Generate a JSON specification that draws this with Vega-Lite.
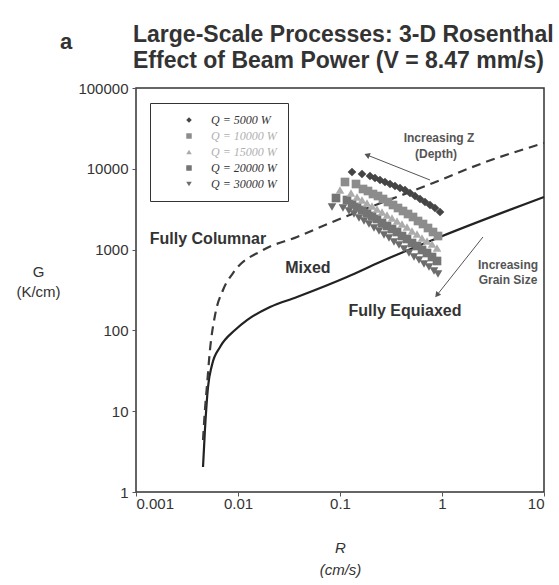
{
  "$schema": "https://vega.github.io/schema/vega-lite/v6.json",
  "width": 408,
  "height": 404,
  "autosize": "none",
  "padding": {"left": 136, "top": 88, "right": 15, "bottom": 93},
  "background": "white",
  "title": {
    "text": ["Large-Scale Processes: 3-D Rosenthal", "Effect of Beam Power (V = 8.47 mm/s)"],
    "anchor": "start",
    "frame": "group",
    "font": "Liberation Sans",
    "fontSize": 23,
    "fontWeight": "bold",
    "color": "#333333",
    "lineHeight": 26,
    "offset": -42,
    "dx": -3
  },
  "config": {
    "view": {"stroke": "#333333", "strokeWidth": 1.5},
    "axis": {
      "labelFont": "Liberation Sans",
      "labelFontSize": 15,
      "labelColor": "#333333",
      "titleFont": "Liberation Sans",
      "titleFontSize": 15,
      "titleFontWeight": "normal",
      "titleColor": "#333333",
      "domain": false,
      "grid": false,
      "tickColor": "#555555",
      "tickSize": 4
    }
  },
  "datasets": {
    "curves": [
      {"curve": "solid", "R": 0.00454, "G": 2.04},
      {"curve": "solid", "R": 0.00474, "G": 5.85},
      {"curve": "solid", "R": 0.00508, "G": 19.9},
      {"curve": "solid", "R": 0.00556, "G": 37.3},
      {"curve": "solid", "R": 0.00667, "G": 62.3},
      {"curve": "solid", "R": 0.00935, "G": 101},
      {"curve": "solid", "R": 0.01225, "G": 134},
      {"curve": "solid", "R": 0.0206, "G": 195},
      {"curve": "solid", "R": 0.0379, "G": 259},
      {"curve": "solid", "R": 0.117, "G": 458},
      {"curve": "solid", "R": 0.247, "G": 703},
      {"curve": "solid", "R": 0.955, "G": 1432},
      {"curve": "solid", "R": 10, "G": 4480},
      {"curve": "dashed", "R": 0.00454, "G": 4.4},
      {"curve": "dashed", "R": 0.00474, "G": 10.3},
      {"curve": "dashed", "R": 0.00497, "G": 21.1},
      {"curve": "dashed", "R": 0.00531, "G": 57.2},
      {"curve": "dashed", "R": 0.00596, "G": 155},
      {"curve": "dashed", "R": 0.00713, "G": 316},
      {"curve": "dashed", "R": 0.00893, "G": 513},
      {"curve": "dashed", "R": 0.0176, "G": 988},
      {"curve": "dashed", "R": 0.0379, "G": 1432},
      {"curve": "dashed", "R": 0.0798, "G": 2134},
      {"curve": "dashed", "R": 0.817, "G": 6670},
      {"curve": "dashed", "R": 2.52, "G": 11800},
      {"curve": "dashed", "R": 10, "G": 20860}
    ],
    "points": [
      {"Q": "30000", "R": 0.08349, "G": 3368},
      {"Q": "30000", "R": 0.1070, "G": 3273},
      {"Q": "30000", "R": 0.1225, "G": 3004},
      {"Q": "30000", "R": 0.1372, "G": 2758},
      {"Q": "30000", "R": 0.1536, "G": 2461},
      {"Q": "30000", "R": 0.1719, "G": 2259},
      {"Q": "30000", "R": 0.1924, "G": 2074},
      {"Q": "30000", "R": 0.2154, "G": 1851},
      {"Q": "30000", "R": 0.2412, "G": 1699},
      {"Q": "30000", "R": 0.2700, "G": 1516},
      {"Q": "30000", "R": 0.3023, "G": 1392},
      {"Q": "30000", "R": 0.3384, "G": 1242},
      {"Q": "30000", "R": 0.3788, "G": 1140},
      {"Q": "30000", "R": 0.4240, "G": 1017},
      {"Q": "30000", "R": 0.4748, "G": 908},
      {"Q": "30000", "R": 0.5316, "G": 810},
      {"Q": "30000", "R": 0.5951, "G": 744},
      {"Q": "30000", "R": 0.6662, "G": 663},
      {"Q": "30000", "R": 0.7457, "G": 609},
      {"Q": "30000", "R": 0.8348, "G": 543},
      {"Q": "30000", "R": 0.9137, "G": 499},
      {"Q": "20000", "R": 0.09138, "G": 4351},
      {"Q": "20000", "R": 0.1171, "G": 4111},
      {"Q": "20000", "R": 0.1311, "G": 3667},
      {"Q": "20000", "R": 0.1468, "G": 3368},
      {"Q": "20000", "R": 0.1643, "G": 3092},
      {"Q": "20000", "R": 0.1839, "G": 2838},
      {"Q": "20000", "R": 0.2059, "G": 2605},
      {"Q": "20000", "R": 0.2305, "G": 2392},
      {"Q": "20000", "R": 0.2581, "G": 2134},
      {"Q": "20000", "R": 0.2889, "G": 1959},
      {"Q": "20000", "R": 0.3234, "G": 1799},
      {"Q": "20000", "R": 0.3621, "G": 1651},
      {"Q": "20000", "R": 0.4053, "G": 1473},
      {"Q": "20000", "R": 0.4537, "G": 1353},
      {"Q": "20000", "R": 0.5081, "G": 1207},
      {"Q": "20000", "R": 0.5688, "G": 1108},
      {"Q": "20000", "R": 0.6368, "G": 989},
      {"Q": "20000", "R": 0.7128, "G": 908},
      {"Q": "20000", "R": 0.7980, "G": 810},
      {"Q": "20000", "R": 0.8933, "G": 723},
      {"Q": "15000", "R": 0.1, "G": 5466},
      {"Q": "15000", "R": 0.1282, "G": 5017},
      {"Q": "15000", "R": 0.1468, "G": 4477},
      {"Q": "15000", "R": 0.1643, "G": 4111},
      {"Q": "15000", "R": 0.1839, "G": 3773},
      {"Q": "15000", "R": 0.2059, "G": 3464},
      {"Q": "15000", "R": 0.2305, "G": 3181},
      {"Q": "15000", "R": 0.2581, "G": 2920},
      {"Q": "15000", "R": 0.2889, "G": 2681},
      {"Q": "15000", "R": 0.3234, "G": 2461},
      {"Q": "15000", "R": 0.3621, "G": 2259},
      {"Q": "15000", "R": 0.4053, "G": 2074},
      {"Q": "15000", "R": 0.4537, "G": 1904},
      {"Q": "15000", "R": 0.5081, "G": 1699},
      {"Q": "15000", "R": 0.5688, "G": 1560},
      {"Q": "15000", "R": 0.6368, "G": 1392},
      {"Q": "15000", "R": 0.7128, "G": 1278},
      {"Q": "15000", "R": 0.7980, "G": 1173},
      {"Q": "15000", "R": 0.8933, "G": 1047},
      {"Q": "10000", "R": 0.1119, "G": 6866},
      {"Q": "10000", "R": 0.1435, "G": 6485},
      {"Q": "10000", "R": 0.1681, "G": 5623},
      {"Q": "10000", "R": 0.1881, "G": 5312},
      {"Q": "10000", "R": 0.2106, "G": 4876},
      {"Q": "10000", "R": 0.2358, "G": 4607},
      {"Q": "10000", "R": 0.2640, "G": 4229},
      {"Q": "10000", "R": 0.2955, "G": 3883},
      {"Q": "10000", "R": 0.3308, "G": 3565},
      {"Q": "10000", "R": 0.3703, "G": 3273},
      {"Q": "10000", "R": 0.4146, "G": 3004},
      {"Q": "10000", "R": 0.4642, "G": 2758},
      {"Q": "10000", "R": 0.5197, "G": 2532},
      {"Q": "10000", "R": 0.5818, "G": 2259},
      {"Q": "10000", "R": 0.6513, "G": 2074},
      {"Q": "10000", "R": 0.7291, "G": 1851},
      {"Q": "10000", "R": 0.8162, "G": 1651},
      {"Q": "10000", "R": 0.9137, "G": 1473},
      {"Q": "5000", "R": 0.1311, "G": 9129},
      {"Q": "5000", "R": 0.1643, "G": 8620},
      {"Q": "5000", "R": 0.1968, "G": 8145},
      {"Q": "5000", "R": 0.2203, "G": 7693},
      {"Q": "5000", "R": 0.2467, "G": 7268},
      {"Q": "5000", "R": 0.2762, "G": 6866},
      {"Q": "5000", "R": 0.3092, "G": 6485},
      {"Q": "5000", "R": 0.3461, "G": 6126},
      {"Q": "5000", "R": 0.3875, "G": 5786},
      {"Q": "5000", "R": 0.4337, "G": 5466},
      {"Q": "5000", "R": 0.4857, "G": 5017},
      {"Q": "5000", "R": 0.5437, "G": 4607},
      {"Q": "5000", "R": 0.6087, "G": 4229},
      {"Q": "5000", "R": 0.6814, "G": 3883},
      {"Q": "5000", "R": 0.7628, "G": 3565},
      {"Q": "5000", "R": 0.8539, "G": 3273},
      {"Q": "5000", "R": 0.9559, "G": 2920}
    ],
    "arrows": [
      {"arrow": "depth", "R": 0.762, "G": 7270, "R2": 0.184, "G2": 14830},
      {"arrow": "grain", "R": 2.52, "G": 1432, "R2": 0.893, "G2": 274}
    ],
    "labels": [
      {"kind": "region", "text": "Fully Columnar", "R": 0.00508, "G": 1352},
      {"kind": "region", "text": "Mixed", "R": 0.0485, "G": 592},
      {"kind": "region", "text": "Fully Equiaxed", "R": 0.434, "G": 174},
      {"kind": "note", "text": "Increasing Z", "R": 0.935, "G": 24060},
      {"kind": "note", "text": "(Depth)", "R": 0.873, "G": 15250},
      {"kind": "note", "text": "Increasing", "R": 4.44, "G": 645},
      {"kind": "note", "text": "Grain Size", "R": 4.44, "G": 421},
      {"kind": "panel", "text": "a", "R": 0.000206, "G": 370700}
    ]
  },
  "layer": [
    {
      "data": {"name": "curves"},
      "transform": [{"filter": "datum.curve === 'solid'"}],
      "mark": {"type": "line", "interpolate": "monotone", "color": "#222222", "strokeWidth": 2.2},
      "encoding": {
        "x": {
          "field": "R", "type": "quantitative",
          "scale": {"type": "log", "domain": [0.001, 10], "nice": false},
          "axis": {
            "values": [0.001, 0.01, 0.1, 1, 10],
            "format": "~g",
            "labelPadding": 0,
            "title": ["R", "(cm/s)"],
            "titleFontStyle": "italic",
            "titleLineHeight": 22,
            "titleBaseline": "top",
            "titleY": 48
          }
        },
        "y": {
          "field": "G", "type": "quantitative",
          "scale": {"type": "log", "domain": [1, 100000], "nice": false},
          "axis": {
            "values": [1, 10, 100, 1000, 10000, 100000],
            "format": "~g",
            "labelPadding": 4,
            "title": ["G", "(K/cm)"],
            "titleAngle": 0,
            "titleAlign": "center",
            "titleBaseline": "top",
            "titleX": -98,
            "titleY": 176,
            "titleLineHeight": 20
          }
        }
      }
    },
    {
      "data": {"name": "curves"},
      "transform": [{"filter": "datum.curve === 'dashed'"}],
      "mark": {"type": "line", "interpolate": "monotone", "color": "#3a3a3a", "strokeWidth": 2.2, "strokeDash": [9, 6]},
      "encoding": {
        "x": {"field": "R", "type": "quantitative", "scale": {"type": "log", "domain": [0.001, 10], "nice": false}},
        "y": {"field": "G", "type": "quantitative", "scale": {"type": "log", "domain": [1, 100000], "nice": false}}
      }
    },
    {
      "data": {"name": "points"},
      "mark": {"type": "point", "filled": true, "size": 75, "opacity": 1},
      "encoding": {
        "x": {"field": "R", "type": "quantitative", "scale": {"type": "log", "domain": [0.001, 10], "nice": false}},
        "y": {"field": "G", "type": "quantitative", "scale": {"type": "log", "domain": [1, 100000], "nice": false}},
        "color": {
          "field": "Q", "type": "nominal",
          "scale": {"domain": ["5000", "10000", "15000", "20000", "30000"], "range": ["#454545", "#8c8c8c", "#ababab", "#747474", "#6c6c6c"]},
          "legend": {
            "orient": "none", "legendX": 14, "legendY": 15, "title": null,
            "strokeColor": "#333333", "padding": 11,
            "symbolOffset": 22, "symbolSize": 30, "symbolStrokeWidth": 0,
            "labelFont": "Liberation Serif", "labelFontStyle": "italic", "labelFontSize": 12,
            "labelOffset": 16, "rowPadding": 4,
            "labelExpr": "'Q = ' + datum.label + ' W'",
            "labelColor": {"expr": "datum.value === '10000' || datum.value === '15000' ? '#b0b0b0' : '#333333'"},
            "encode": {
              "legend": {"update": {"strokeWidth": {"value": 1.5}}}
            }
          }
        },
        "shape": {
          "field": "Q", "type": "nominal",
          "scale": {"domain": ["5000", "10000", "15000", "20000", "30000"], "range": ["diamond", "square", "triangle-up", "square", "triangle-down"]},
          "legend": {
            "orient": "none", "legendX": 14, "legendY": 15, "title": null,
            "strokeColor": "#333333", "padding": 11,
            "symbolOffset": 22, "symbolSize": 30, "symbolStrokeWidth": 0,
            "labelFont": "Liberation Serif", "labelFontStyle": "italic", "labelFontSize": 12,
            "labelOffset": 16, "rowPadding": 4,
            "labelExpr": "'Q = ' + datum.label + ' W'",
            "labelColor": {"expr": "datum.value === '10000' || datum.value === '15000' ? '#b0b0b0' : '#333333'"},
            "encode": {
              "legend": {"update": {"strokeWidth": {"value": 1.5}}}
            }
          }
        }
      }
    },
    {
      "data": {"name": "arrows"},
      "mark": {"type": "rule", "color": "#555555", "strokeWidth": 1},
      "encoding": {
        "x": {"field": "R", "type": "quantitative", "scale": {"type": "log", "domain": [0.001, 10], "nice": false}},
        "y": {"field": "G", "type": "quantitative", "scale": {"type": "log", "domain": [1, 100000], "nice": false}},
        "x2": {"field": "R2"},
        "y2": {"field": "G2"}
      }
    },
    {
      "data": {"name": "arrows"},
      "transform": [{"filter": "datum.arrow === 'depth'"}],
      "mark": {"type": "point", "shape": "triangle-up", "filled": true, "color": "#555555", "size": 40, "angle": 292, "opacity": 1},
      "encoding": {
        "x": {"field": "R2", "type": "quantitative", "scale": {"type": "log", "domain": [0.001, 10], "nice": false}},
        "y": {"field": "G2", "type": "quantitative", "scale": {"type": "log", "domain": [1, 100000], "nice": false}}
      }
    },
    {
      "data": {"name": "arrows"},
      "transform": [{"filter": "datum.arrow === 'grain'"}],
      "mark": {"type": "point", "shape": "triangle-up", "filled": true, "color": "#555555", "size": 40, "angle": 218, "opacity": 1},
      "encoding": {
        "x": {"field": "R2", "type": "quantitative", "scale": {"type": "log", "domain": [0.001, 10], "nice": false}},
        "y": {"field": "G2", "type": "quantitative", "scale": {"type": "log", "domain": [1, 100000], "nice": false}}
      }
    },
    {
      "data": {"name": "labels"},
      "transform": [{"filter": "datum.kind === 'region'"}],
      "mark": {"type": "text", "font": "Liberation Sans", "fontSize": 16, "fontWeight": "bold", "color": "#333333", "baseline": "middle", "align": "center"},
      "encoding": {
        "x": {"field": "R", "type": "quantitative", "scale": {"type": "log", "domain": [0.001, 10], "nice": false}},
        "y": {"field": "G", "type": "quantitative", "scale": {"type": "log", "domain": [1, 100000], "nice": false}},
        "text": {"field": "text"}
      }
    },
    {
      "data": {"name": "labels"},
      "transform": [{"filter": "datum.kind === 'note'"}],
      "mark": {"type": "text", "font": "Liberation Sans", "fontSize": 12, "fontWeight": "bold", "color": "#555555", "baseline": "middle", "align": "center"},
      "encoding": {
        "x": {"field": "R", "type": "quantitative", "scale": {"type": "log", "domain": [0.001, 10], "nice": false}},
        "y": {"field": "G", "type": "quantitative", "scale": {"type": "log", "domain": [1, 100000], "nice": false}},
        "text": {"field": "text"}
      }
    },
    {
      "data": {"name": "labels"},
      "transform": [{"filter": "datum.kind === 'panel'"}],
      "mark": {"type": "text", "font": "Liberation Sans", "fontSize": 22, "fontWeight": "bold", "color": "#333333", "baseline": "middle", "align": "center"},
      "encoding": {
        "x": {"field": "R", "type": "quantitative", "scale": {"type": "log", "domain": [0.001, 10], "nice": false}},
        "y": {"field": "G", "type": "quantitative", "scale": {"type": "log", "domain": [1, 100000], "nice": false}},
        "text": {"field": "text"}
      }
    }
  ]
}
